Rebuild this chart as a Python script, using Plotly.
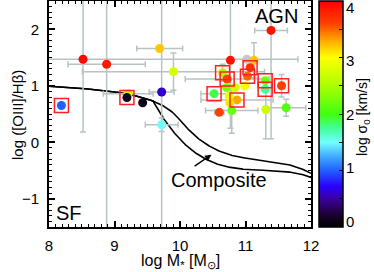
import plotly.graph_objects as go
import numpy as np

# ---- data ----
mass  = [8.19, 8.52, 8.88, 9.69, 9.90, 9.72, 9.21, 9.19, 9.43, 9.72,
         11.39, 10.77, 11.13, 11.07, 11.03, 10.65, 10.72, 10.71, 10.84, 10.99,
         10.52, 11.30, 11.30, 11.55, 10.87, 10.76, 10.60, 10.79, 11.31, 11.62, 10.75]
ratio = [0.65, 1.47, 1.38, 1.66, 1.25, 0.89, 0.86, 0.79, 0.70, 0.31,
         1.98, 1.45, 1.45, 1.32, 1.17, 1.23, 1.12, 0.97, 0.97, 1.00,
         0.86, 1.09, 0.94, 1.00, 0.75, 0.70, 0.53, 0.56, 0.58, 0.61, 0.82]
sigma = [1.0, 3.95, 3.85, 3.2, 2.75, 0.6, 2.6, 0.15, 0.1, 1.5,
         3.9, 3.9, 3.2, 3.7, 3.5, 2.5, 3.6, 2.3, 2.7, 2.95,
         1.9, 2.2, 1.75, 3.6, 3.3, 3.1, 3.6, 2.2, 2.7, 2.1, 2.9]
xerr  = [0, 3.28, 0.59, 0.35, 1.39, 0.19, 0.38, 0, 0, 0.25,
         0.25, 0, 0, 0, 0, 0, 0.64, 0, 0, 0,
         0.2, 0, 0, 0, 0.55, 0, 0.07, 0.4, 0, 0.3, 0]
yerr  = [0, 1.29, 3.0, 0, 0.33, 3.0, 0.05, 0, 0, 0.12,
         1.92, 1.2, 0.31, 0, 0, 0.15, 0, 0, 0, 0,
         0, 0, 0, 0.2, 0, 0, 0, 0.4, 0.52, 0.15, 0]
boxed = [1, 0, 0, 0, 0, 0, 0, 1, 0, 0,
         0, 0, 0, 1, 1, 1, 1, 0, 0, 0,
         1, 1, 1, 1, 1, 0, 0, 0, 0, 0, 0]
gray_mass = [11.02]
gray_ratio = [1.47]
cbar_labels = [0, 1, 2, 3, 4]
CMIN, CMAX = 0, 4

# MEx demarcation (Juneau et al. 2011) coefficients
HYP_A, HYP_X0, HYP_B = 0.375, 10.5, 1.14
UP_BREAK, UP_POLY = 10.0, [410.24, -109.333, 9.71731, -0.288244]
LO_BREAK, LO_POLY = 9.6, [352.066, -93.8249, 8.32651, -0.246416]

def mex(x, brk, poly):
    x = np.asarray(x)
    hyp = HYP_A / (x - HYP_X0) + HYP_B
    p = poly[0] + poly[1]*x + poly[2]*x**2 + poly[3]*x**3
    return np.where(x <= brk, hyp, p)

xc = np.linspace(8, 12, 400)

colorscale = [
    [0.00, "#000000"], [0.06, "#200038"], [0.12, "#3a0098"], [0.18, "#2a00ff"],
    [0.25, "#2060ff"], [0.31, "#40a8ff"], [0.375, "#70ffff"], [0.44, "#40ff90"],
    [0.50, "#40ff10"], [0.62, "#a8ff00"], [0.75, "#ffff00"], [0.82, "#ffb000"],
    [0.90, "#ff4000"], [1.00, "#ff0000"],
]

FONT = "Liberation Sans"
W, H = 374, 272
L, R, T, B = 49, 63, 1, 45
PW, PH = W - L - R, H - T - B
fig = go.Figure()
errc = "#b8c4c4"

for brk, poly in [(UP_BREAK, UP_POLY), (LO_BREAK, LO_POLY)]:
    fig.add_trace(go.Scatter(x=xc, y=mex(xc, brk, poly), mode="lines",
                             line=dict(color="black", width=1.6), hoverinfo="skip"))

fig.add_trace(go.Scatter(x=gray_mass, y=gray_ratio, mode="markers",
                         marker=dict(size=9, color="#c8c8c8")))

fig.add_trace(go.Scatter(
    x=mass, y=ratio, mode="markers",
    error_x=dict(type="data", array=xerr, color=errc, thickness=1.5, width=3),
    error_y=dict(type="data", array=yerr, color=errc, thickness=1.5, width=3),
    marker=dict(size=9, color=sigma, colorscale=colorscale, cmin=CMIN, cmax=CMAX,
                line=dict(width=0),
                colorbar=dict(
                    x=(319 - L) / PW, xanchor="left", xpad=0, y=0.5, yanchor="middle",
                    len=1, lenmode="fraction", ypad=0, thickness=24,
                    outlinecolor="black", outlinewidth=1.5,
                    tick0=0, dtick=0.5, ticks="inside", ticklen=4, tickcolor="black",
                    showticklabels=False,
                )),
))

bx = [m for m, b in zip(mass, boxed) if b]
by = [r for r, b in zip(ratio, boxed) if b]
fig.add_trace(go.Scatter(x=bx, y=by, mode="markers",
                         marker=dict(symbol="square-open", size=14,
                                     line=dict(color="#ff2020", width=1.5), color="#ff2020")))

fig.add_annotation(x=10.48, y=-0.22, ax=10.20, ay=-0.44, xref="x", yref="y",
                   axref="x", ayref="y", showarrow=True, arrowhead=2, arrowsize=1,
                   arrowwidth=1.3, arrowcolor="black", text="")
fig.add_annotation(x=10.60, y=-0.66, text="Composite", showarrow=False,
                   font=dict(size=20, color="black", family=FONT))
fig.add_annotation(x=11.47, y=2.23, text="AGN", showarrow=False,
                   font=dict(size=20, color="black", family=FONT))
fig.add_annotation(x=8.31, y=-1.255, text="SF", showarrow=False,
                   font=dict(size=20, color="black", family=FONT))

# colorbar labels (kept inside the bar's extent, as in the original)
for v in cbar_labels:
    frac = (v - CMIN) / (CMAX - CMIN)
    py = 7 + (1 - frac) * (221 - 7)
    fig.add_annotation(x=(350 - L) / PW, y=(H - B - py) / PH, xref="paper", yref="paper",
                       text=str(v), showarrow=False, xanchor="center", yanchor="middle",
                       font=dict(size=15, color="black", family=FONT))
fig.add_annotation(x=(363 - L) / PW, y=(H - B - 117) / PH, xref="paper", yref="paper",
                   text="log σ<sub>0</sub> [km/s]", showarrow=False, textangle=-90,
                   xanchor="center", yanchor="middle",
                   font=dict(size=14, color="black", family=FONT))

# axis titles
fig.add_annotation(x=(180 - L) / PW, y=-(261 - (H - B)) / PH, xref="paper", yref="paper",
                   text="log M<sub>*</sub> [M<sub>⊙</sub>]", showarrow=False,
                   xanchor="center", yanchor="middle",
                   font=dict(size=16, color="black", family=FONT))
fig.add_annotation(x=-(L - 17) / PW, y=(H - B - 115) / PH, xref="paper", yref="paper",
                   text="log ([OIII]/Hβ)", showarrow=False, textangle=-90,
                   xanchor="center", yanchor="middle",
                   font=dict(size=15, color="black", family=FONT))

axis_common = dict(showline=True, linewidth=2, linecolor="black", mirror="ticks",
                   ticks="inside", ticklen=6, tickwidth=1.5, tickcolor="black",
                   showgrid=False, zeroline=False,
                   tickfont=dict(size=15, color="black", family=FONT),
                   minor=dict(dtick=0.1, ticks="inside", ticklen=3, tickwidth=1.2,
                              tickcolor="black", showgrid=False))

fig.update_xaxes(range=[8, 12], dtick=1, tick0=8, ticklabelstandoff=4, **axis_common)
fig.update_yaxes(range=[-1.5, 2.5], dtick=1, tick0=0, ticklabelstandoff=5, **axis_common)

fig.update_layout(width=W, height=H, margin=dict(l=L, r=R, t=T, b=B, autoexpand=False),
                  plot_bgcolor="white", paper_bgcolor="white", showlegend=False,
                  font=dict(family=FONT, color="black"))

fig.write_html("out.html", config={"displayModeBar": False},
               post_script="document.body.style.margin='0px';")
